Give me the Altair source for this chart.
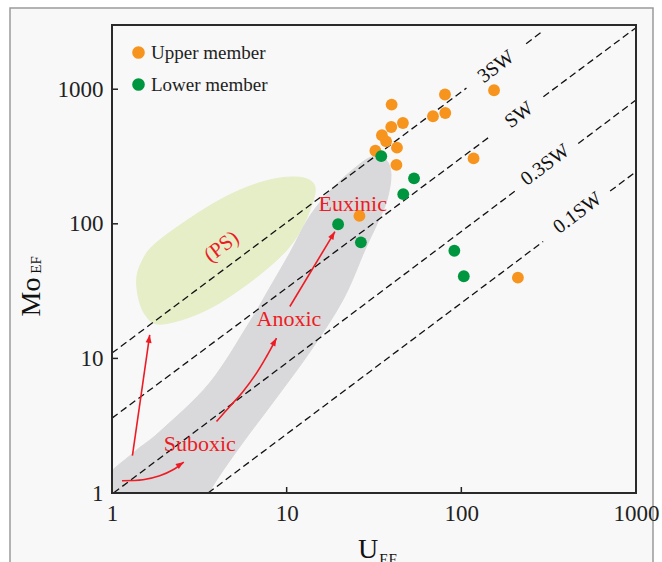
import altair as alt
import pandas as pd

SERIF = "Liberation Serif"
RED = "#ED1C24"
ORANGE = "#F7941D"
GREEN = "#00963F"

# ---------------- data ----------------
upper_u = [39.9, 80.6, 153.9, 68.8, 80.9, 46.3, 39.7, 35.1, 37.1, 32.2, 42.8, 42.5, 117.5, 26.1, 210.8]
upper_mo = [769, 914, 983, 630, 666, 561, 524, 455, 410, 349, 368, 274, 306, 114.5, 39.8]
lower_u = [34.8, 53.6, 46.5, 19.7, 26.6, 91.2, 103.3]
lower_mo = [318, 217.7, 166, 99.3, 72.8, 63.1, 40.8]

# seawater reference lines (two segments each, gap for the label)
line_name = ["3SW", "3SW", "SW", "SW", "0.3SW", "0.3SW", "0.1SW", "0.1SW"]
line_x0 = [1, 235, 1, 295, 1.02, 467, 3.55, 711]
line_y0 = [10.95, 2180, 3.6, 880, 1.0, 395, 1.0, 175]
line_x1 = [107, 289, 146, 1000, 203, 1000, 294, 1000]
line_y1 = [1020, 2670, 446, 2866, 175, 832, 73.8, 244]

sw_labels = ["3SW", "SW", "0.3SW", "0.1SW"]
sw_label_x = [158, 214, 302, 463]
sw_label_y = [1469, 644, 274, 120.5]

red_labels = ["Euxinic", "Anoxic", "Suboxic"]
red_label_x = [23.9, 10.3, 3.18]
red_label_y = [140.6, 19.7, 2.32]

ps_label = ["(PS)"]
ps_label_x = [4.25]
ps_label_y = [67.4]

# particulate shuttle field
ps_x = [1.385, 1.539, 2.004, 4.141, 10.03, 14.32, 13.06, 8.01, 4.141, 1.876, 1.480]
ps_y = [35.2, 21.4, 18.07, 25.9, 64.0, 155.7, 215.4, 211.8, 150.5, 75.9, 52.1]

# unrestricted marine trend band
band_x = [0.850, 1.349, 1.876, 3.630, 6.153, 7.70, 10.43, 13.58, 18.40, 24.60, 30.78, 37.03,
          39.55, 37.52, 33.31, 28.06, 20.99, 13.58, 8.56, 5.39, 3.73, 3.31, 0.850]
band_y = [1.172, 2.026, 2.852, 6.59, 18.7, 30.7, 60.8, 114.5, 184.7, 260, 313.9, 298.2,
          230.7, 150.5, 103.3, 64.0, 27.2, 11.19, 4.93, 2.207, 1.095, 0.751, 0.751]

# arrows
arrow_id = [1, 1, 2, 2, 2, 2, 2, 3, 3, 3, 3, 3, 3, 4, 4]
arrow_x = [1.309, 1.644, 1.141, 1.505, 1.876, 2.236, 2.576, 3.966, 4.726, 5.63, 6.72, 7.67, 8.75, 10.43, 18.89]
arrow_y = [1.892, 14.97, 1.234, 1.255, 1.344, 1.489, 1.699, 3.401, 4.395, 5.68, 7.78, 10.33, 14.15, 24.3, 87.5]
head_x = [1.644, 2.576, 8.75, 18.89]
head_y = [14.97, 1.699, 14.15, 87.5]
head_angle = [8, 56, 29, 31]

tick_values = [1, 10, 100, 1000]

# ---------------- scales / axes ----------------
xs = alt.Scale(type="log", domain=[1, 1000], nice=False)
ys = alt.Scale(type="log", domain=[1, 3000], nice=False)
xaxis = alt.Axis(values=tick_values, format="d", title=None, grid=False, ticks=False, tickSize=0,
                 domain=False, labelFont=SERIF, labelFontSize=23, labelColor="#222",
                 labelPadding=9, labelFlush=False, labelOverlap=False, zindex=2)
yaxis = alt.Axis(values=tick_values, format="d", title=None, grid=False, ticks=False, tickSize=0,
                 domain=False, labelFont=SERIF, labelFontSize=23, labelColor="#222",
                 labelPadding=9, labelFlush=False, labelOverlap=False, zindex=2)
X = alt.X("x:Q", scale=xs, axis=xaxis)
Y = alt.Y("y:Q", scale=ys, axis=yaxis)

one = pd.DataFrame({"a": [0]})

# ---------------- layers ----------------
outer = alt.Chart(one).mark_rect(fill="#f8f8f8", stroke="#9a9a9a", strokeWidth=1.5).encode(
    x=alt.value(-102), x2=alt.value(541), y=alt.value(-17), y2=alt.value(560))

ps_df = pd.DataFrame({"x": ps_x, "y": ps_y, "i": list(range(len(ps_x)))})
ps_shape = alt.Chart(ps_df).mark_line(interpolate="cardinal-closed", fill="#E6EEC8", stroke="#E6EEC8",
                                      strokeWidth=1, clip=True).encode(x=X, y=Y, order=alt.Order("i:Q"))

band_df = pd.DataFrame({"x": band_x, "y": band_y, "i": list(range(len(band_x)))})
band_shape = alt.Chart(band_df).mark_line(interpolate="cardinal-closed", fill="#D9D9DB", stroke="#D9D9DB",
                                          strokeWidth=1, clip=True).encode(x=X, y=Y, order=alt.Order("i:Q"))

seg_rows = []
for k in range(len(line_name)):
    seg_rows.append({"seg": k, "x": line_x0[k], "y": line_y0[k], "i": 0})
    seg_rows.append({"seg": k, "x": line_x1[k], "y": line_y1[k], "i": 1})
seg_df = pd.DataFrame(seg_rows)
sw_lines = alt.Chart(seg_df).mark_line(color="#111", strokeWidth=1.3, strokeDash=[7, 4]).encode(
    x=X, y=Y, detail="seg:N", order=alt.Order("i:Q"))

sw_text_df = pd.DataFrame({"x": sw_label_x, "y": sw_label_y, "t": sw_labels})
sw_text = alt.Chart(sw_text_df).mark_text(font=SERIF, fontSize=20, color="#111", angle=323,
                                          align="center", baseline="middle").encode(x=X, y=Y, text="t:N")

arrow_df = pd.DataFrame({"x": arrow_x, "y": arrow_y, "a": arrow_id, "i": list(range(len(arrow_x)))})
arrows = alt.Chart(arrow_df).mark_line(color=RED, strokeWidth=1.6, interpolate="cardinal").encode(
    x=X, y=Y, detail="a:N", order=alt.Order("i:Q"))

head_df = pd.DataFrame({"x": head_x, "y": head_y, "ang": head_angle})
heads = alt.Chart(head_df).mark_point(shape="M0,0L0.6,1.6L-0.6,1.6Z", filled=True, color=RED,
                                      opacity=1, size=100, strokeWidth=0).encode(
    x=X, y=Y, angle=alt.Angle("ang:Q", scale=None))

red_df = pd.DataFrame({"x": red_label_x, "y": red_label_y, "t": red_labels})
red_text = alt.Chart(red_df).mark_text(font=SERIF, fontSize=22, color=RED, align="center",
                                       baseline="middle").encode(x=X, y=Y, text="t:N")

ps_text_df = pd.DataFrame({"x": ps_label_x, "y": ps_label_y, "t": ps_label})
ps_text = alt.Chart(ps_text_df).mark_text(font=SERIF, fontSize=21, color=RED, angle=323, align="center",
                                          baseline="middle").encode(x=X, y=Y, text="t:N")

pts = pd.DataFrame({
    "member": ["Upper member"] * len(upper_u) + ["Lower member"] * len(lower_u),
    "x": upper_u + lower_u,
    "y": upper_mo + lower_mo,
})
points = alt.Chart(pts).mark_point(filled=True, shape="circle", size=140, opacity=1, strokeWidth=0).encode(
    x=X, y=Y,
    color=alt.Color("member:N",
                    scale=alt.Scale(domain=["Upper member", "Lower member"], range=[ORANGE, GREEN]),
                    legend=alt.Legend(title=None, orient="none", legendX=17, legendY=18,
                                      labelFont=SERIF, labelFontSize=19, labelColor="#222",
                                      symbolSize=160, symbolType="circle", rowPadding=12,
                                      labelOffset=3, padding=0, symbolStrokeWidth=0)),
)

ytick_df = pd.DataFrame({"y": tick_values})
yticks = alt.Chart(ytick_df).mark_rule(color="#222", strokeWidth=1.5).encode(
    y=Y, x=alt.value(0), x2=alt.value(6))
xtick_df = pd.DataFrame({"x": tick_values})
xticks = alt.Chart(xtick_df).mark_rule(color="#222", strokeWidth=1.5).encode(
    x=X, y=alt.value(468), y2=alt.value(462))

frame = alt.Chart(one).mark_rect(fillOpacity=0, stroke="#2a2a2a", strokeWidth=2).encode(
    x=alt.value(0), x2=alt.value(524), y=alt.value(0), y2=alt.value(468))

mo_title = alt.Chart(one).mark_text(text="Mo", font=SERIF, fontSize=28, color="#111", angle=270,
                                    align="center", baseline="alphabetic").encode(
    x=alt.value(-72), y=alt.value(272))
mo_sub = alt.Chart(one).mark_text(text="EF", font=SERIF, fontSize=15, color="#111", angle=270,
                                  align="center", baseline="alphabetic").encode(
    x=alt.value(-71), y=alt.value(240))
u_title = alt.Chart(one).mark_text(text="U", font=SERIF, fontSize=28, color="#111",
                                   align="center", baseline="alphabetic").encode(
    x=alt.value(256), y=alt.value(533))
u_sub = alt.Chart(one).mark_text(text="EF", font=SERIF, fontSize=15, color="#111",
                                 align="center", baseline="alphabetic").encode(
    x=alt.value(276), y=alt.value(539))

chart = alt.layer(
    outer, ps_shape, band_shape, sw_lines, sw_text, arrows, heads, red_text, ps_text,
    points, yticks, xticks, frame, mo_title, mo_sub, u_title, u_sub,
).properties(
    width=524, height=468,
    padding={"left": 112, "top": 25, "right": 26, "bottom": 69},
    autosize=alt.AutoSizeParams(type="none"),
    background="white",
).configure_view(strokeWidth=0)

chart.save("out.html", embed_options={"renderer": "svg", "actions": False})
